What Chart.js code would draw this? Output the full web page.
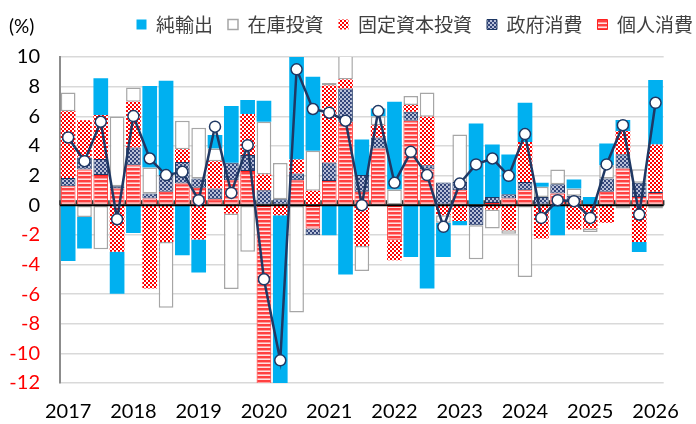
<!DOCTYPE html>
<html lang="ja">
<head>
<meta charset="utf-8">
<script src="https://cdn.jsdelivr.net/npm/chart.js@4.4.1/dist/chart.umd.min.js"></script>
<style>
  body { margin: 0; background: #fff; }
  #wrap { width: 696px; height: 424px; }
</style>
</head>
<body>
<div id="wrap"><canvas id="gdpChart" width="696" height="424"></canvas></div>
<script>
// 実質GDP成長率と需要項目別寄与度 (%), 2017Q1〜2026Q1
const years = ["2017", "2018", "2019", "2020", "2021", "2022", "2023", "2024", "2025", "2026"];
const quarters = [];
years.forEach(y => {
    for (let q = 1; q <= 4; q++) {
        if (y === "2026" && q > 1) break;
        quarters.push(y + "Q" + q);
    }
});

const personal = [1.28, 2.41, 2.03, 1.13, 2.7, 0.45, 0.9, 1.46, 1.17, 0.4, 1.69, 2.3, -12.5, 0, 1.69, -1.58, 1.64, 5.63, 0.9, 3.83, -2.36, 5.7, 2.41, 0, 1.01, 0, 0.15, 0.45, 1.01, 0, 0.79, 0.34, 0, 0.9, 2.48, 0.56, 0.83];
const government = [0.56, 0.81, 1.08, 0.15, 1.19, 0.34, 1.13, 1.46, 0.63, 0.72, 1.17, 1.08, 1.01, 0.4, 0.45, -0.45, 1.24, 2.25, 1.13, 0.74, 0, 0.61, 0.29, 1.53, 0.56, -1.35, 0.4, 0.29, 0.56, 0.56, 0.63, 0.29, 0, 0.9, 0.95, 0.95, 0.07];
const fixedInv = [4.5, 2.52, 2.97, -3.15, 3.09, -5.63, -2.48, 0.86, -2.32, 1.85, -0.56, 2.77, 1.06, -0.68, 0.95, 0.97, 5.2, 0.6, -2.75, 0.83, -1.35, 0.45, 3.27, -0.68, -1.06, 0, -0.29, -1.69, 2.7, -2.25, 0, -1.64, -1.58, -1.19, 1.58, -2.48, 3.2];
const inventory = [1.26, -0.79, -2.97, 4.7, 0.97, 1.76, -4.44, 1.91, 3.42, 0.86, -5.1, -3.15, 3.56, 2.45, -7.25, 2.7, 0.16, 2.3, -1.69, 0.6, 1.06, 0.61, 1.64, -0.5, 3.2, -2.3, -1.28, -0.23, -4.84, 0.68, 0.99, 0.5, -0.23, 0.9, -0.23, 0.92, -0.23];
const netExports = [-3.76, -2.14, 2.48, -2.82, -1.87, 5.5, 6.37, -3.38, -2.23, 0.9, 3.83, 0.95, 1.42, -12.0, 7.0, 5.0, -2.03, -4.68, 2.41, 0.52, 5.92, -3.49, -5.63, -2.31, -0.3, 5.52, 3.54, 2.68, 2.64, 0.27, -2.03, 0.61, 0.56, 1.46, 0.74, -0.68, 4.35];
const gdpGrowth = [4.57, 2.97, 5.63, -0.95, 6.01, 3.15, 2.03, 2.25, 0.34, 5.3, 0.83, 4.05, -5.0, -10.47, 9.17, 6.49, 6.24, 5.7, 0.0, 6.35, 1.51, 3.6, 2.03, -1.46, 1.46, 2.75, 3.15, 1.98, 4.8, -0.86, 0.34, 0.27, -0.86, 2.75, 5.4, -0.63, 6.91];

const yTicks = [-12, -10, -8, -6, -4, -2, 0, 2, 4, 6, 8, 10];

const NAVY = "#1f3864";
const numFont = "Lato, 'Liberation Sans', sans-serif";
const jpFont = "'Noto Sans CJK JP', sans-serif";

// small canvas patterns for hatched fills
function makePattern(w, h, draw) {
    const c = document.createElement("canvas");
    c.width = w;
    c.height = h;
    const ctx = c.getContext("2d");
    draw(ctx);
    return ctx.createPattern(c, "repeat");
}

function checker(a, b) {
    return makePattern(4, 4, ctx => {
        ctx.fillStyle = b;
        ctx.fillRect(0, 0, 4, 4);
        ctx.fillStyle = a;
        ctx.fillRect(0, 0, 2, 2);
        ctx.fillRect(2, 2, 2, 2);
    });
}

const redChecker = checker("#ff0000", "#ffffff");
const navyChecker = checker("#34457a", "#b7c0d8");
const redStripes = makePattern(4, 4, ctx => {
    ctx.fillStyle = "#ff4040"; ctx.fillRect(0, 0, 4, 2);
    ctx.fillStyle = "#ff9c9c"; ctx.fillRect(0, 2, 4, 1);
    ctx.fillStyle = "#ffe2e2"; ctx.fillRect(0, 3, 4, 1);
});

// zero line with small category ticks, drawn between bars and GDP line
const zeroLine = {
    id: "zeroLine",
    beforeDatasetDraw(chart, args) {
        if (args.index !== 5) return;
        const { ctx, chartArea, scales } = chart;
        const y0 = scales.y.getPixelForValue(0);
        ctx.save();
        ctx.strokeStyle = "#000";
        ctx.lineWidth = 2;
        ctx.beginPath();
        ctx.moveTo(chartArea.left, y0);
        ctx.lineTo(chartArea.right, y0);
        ctx.stroke();
        ctx.lineWidth = 1.5;
        ctx.strokeStyle = "#333";
        const half = (scales.x.getPixelForValue(1) - scales.x.getPixelForValue(0)) / 2;
        for (let i = 0; i <= quarters.length; i++) {
            const x = scales.x.getPixelForValue(Math.min(i, quarters.length - 1)) + (i === quarters.length ? half : -half);
            ctx.beginPath();
            ctx.moveTo(x, y0);
            ctx.lineTo(x, y0 - 5);
            ctx.stroke();
        }
        ctx.restore();
    }
};

// unit label + legend placement
const unitLabel = {
    id: "unitLabel",
    beforeInit(chart) {
        const origFit = chart.legend.fit;
        chart.legend.fit = function () {
            origFit.call(this);
            this.height = 57;
        };
    },
    afterLayout(chart) {
        chart.legend.left += 32;
        chart.legend.right += 32;
    },
    afterDraw(chart) {
        const ctx = chart.ctx;
        ctx.save();
        ctx.font = "19px " + numFont;
        ctx.fillStyle = "#000";
        ctx.textBaseline = "middle";
        ctx.fillText("(%)", 9, 27);
        ctx.restore();
    }
};

const barCommon = { type: "bar", stack: "contrib", order: 1, barPercentage: 0.9, categoryPercentage: 1.0 };

new Chart(document.getElementById("gdpChart"), {
    data: {
        labels: quarters,
        datasets: [
            { ...barCommon, label: "個人消費", data: personal, backgroundColor: redStripes, borderColor: "#ff2020", borderWidth: 1, borderSkipped: false },
            { ...barCommon, label: "政府消費", data: government, backgroundColor: navyChecker, borderColor: NAVY, borderWidth: 1, borderSkipped: false },
            { ...barCommon, label: "固定資本投資", data: fixedInv, backgroundColor: redChecker, borderColor: "#ff0000", borderWidth: 0 },
            { ...barCommon, label: "在庫投資", data: inventory, backgroundColor: "#ffffff", borderColor: "#a6a6a6", borderWidth: 1.5, borderSkipped: false },
            { ...barCommon, label: "純輸出", data: netExports, backgroundColor: "#00b0f0", borderColor: "#00b0f0", borderWidth: 0 },
            {
                type: "line",
                label: "実質GDP",
                data: gdpGrowth,
                stack: "gdpLine",
                order: 0,
                borderColor: NAVY,
                borderWidth: 2.5,
                tension: 0,
                pointRadius: 5.5,
                pointBackgroundColor: "#ffffff",
                pointBorderColor: NAVY,
                pointBorderWidth: 1.5
            }
        ]
    },
    options: {
        responsive: false,
        animation: false,
        layout: { padding: { top: 0, right: 20, bottom: 0, left: 0 } },
        plugins: {
            tooltip: { enabled: false },
            legend: {
                position: "top",
                align: "end",
                reverse: true,
                labels: {
                    filter: item => item.datasetIndex !== 5,
                    boxWidth: 10,
                    boxHeight: 10,
                    padding: 15,
                    color: "#404040",
                    font: { family: jpFont, size: 19 }
                }
            }
        },
        scales: {
            x: {
                stacked: true,
                offset: true,
                grid: { display: false, drawTicks: false },
                border: { display: false },
                afterFit: scale => { scale.height = 41; },
                ticks: {
                    autoSkip: false,
                    maxRotation: 0,
                    padding: 17,
                    color: "#000",
                    font: { family: numFont, size: 20 },
                    callback: (val, idx) => idx % 4 === 0 ? quarters[idx].slice(0, 4) : ""
                }
            },
            y: {
                stacked: true,
                min: yTicks[0],
                max: yTicks[yTicks.length - 1],
                afterFit: scale => { scale.width = 60; },
                afterBuildTicks: scale => { scale.ticks = yTicks.map(v => ({ value: v })); },
                grid: { color: "#d9d9d9", lineWidth: 1.5, drawTicks: false },
                border: { display: true, color: "#8c8c8c", width: 2 },
                ticks: {
                    padding: 20,
                    color: ctx => ctx.tick.value < 0 ? "#ff0000" : "#000000",
                    font: { family: numFont, size: 20 }
                }
            }
        }
    },
    plugins: [zeroLine, unitLabel]
});
</script>
</body>
</html>
